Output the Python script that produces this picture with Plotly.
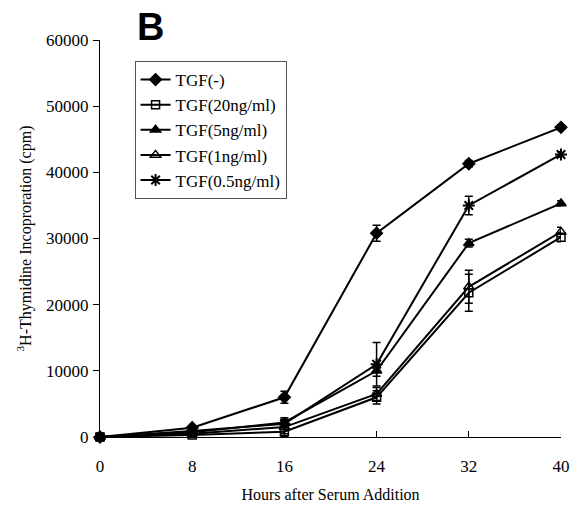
import plotly.graph_objects as go

hours = [0, 8, 16, 24, 32, 40]
series_names = ["TGF(-)", "TGF(20ng/ml)", "TGF(5ng/ml)", "TGF(1ng/ml)", "TGF(0.5ng/ml)"]
tgf_none = [0, 1400, 6000, 30800, 41300, 46800]
tgf_none_err = [0, 300, 900, 1200, 500, 400]
tgf_20 = [0, 300, 800, 6000, 21800, 30200]
tgf_20_err = [0, 200, 300, 1000, 2800, 700]
tgf_5 = [0, 700, 2200, 10000, 29300, 35300]
tgf_5_err = [0, 200, 500, 800, 600, 400]
tgf_1 = [0, 500, 1500, 6500, 22700, 31000]
tgf_1_err = [0, 200, 1400, 1000, 2500, 700]
tgf_05 = [0, 900, 2000, 11000, 35000, 42700]
tgf_05_err = [0, 200, 400, 3300, 1400, 400]

x_ticks = [0, 8, 16, 24, 32, 40]
y_ticks = [0, 10000, 20000, 30000, 40000, 50000, 60000]
y_tick_labels = ["0", "10000", "20000", "30000", "40000", "50000", "60000"]

values = [tgf_none, tgf_20, tgf_5, tgf_1, tgf_05]
errors = [tgf_none_err, tgf_20_err, tgf_5_err, tgf_1_err, tgf_05_err]
symbols = ["diamond", "square-open", "triangle-up", "triangle-up-open", "asterisk-open"]
sizes = [9, 8, 9, 9, 10]

fig = go.Figure()
for name, ys, es, sym, sz in zip(series_names, values, errors, symbols, sizes):
    fig.add_trace(go.Scatter(
        x=hours, y=ys, name=name, mode="lines+markers",
        line=dict(color="black", width=2),
        marker=dict(symbol=sym, size=sz, color="black",
                    line=dict(color="black", width=2 if sym == "asterisk-open" else 1.5)),
        error_y=dict(type="data", array=es, visible=True, color="black", thickness=1.5, width=4),
        cliponaxis=False,
    ))

serif = "Liberation Serif, Times New Roman, serif"
fig.update_layout(
    width=582, height=513,
    margin=dict(l=100, r=16, t=40, b=76),
    paper_bgcolor="white", plot_bgcolor="white",
    font=dict(family=serif, size=15, color="black"),
    showlegend=True,
    legend=dict(
        x=0.075, y=0.947, xanchor="left", yanchor="top",
        bordercolor="#555", borderwidth=1, bgcolor="white",
        font=dict(family=serif, size=17, color="black"),
        itemwidth=30, tracegroupgap=0,
    ),
    xaxis=dict(
        range=[0, 40], tickvals=x_ticks, ticks="inside", ticklen=6, tickwidth=1,
        tickcolor="black", showline=True, linecolor="black", linewidth=1.3,
        showgrid=False, zeroline=False, tickfont=dict(family=serif, size=17),
        ticklabelstandoff=13,
        title=dict(text="Hours after Serum Addition", font=dict(family=serif, size=16), standoff=14),
    ),
    yaxis=dict(
        range=[0, 60000], tickvals=y_ticks, ticktext=y_tick_labels, ticks="outside", ticklen=6, tickwidth=1,
        tickcolor="black", showline=True, linecolor="black", linewidth=1.3,
        showgrid=False, zeroline=False, tickfont=dict(family=serif, size=17),
        ticklabelstandoff=1,
        title=dict(text="<sup>3</sup>H-Thymidine Incoproration (cpm)", font=dict(family=serif, size=16), standoff=10),
    ),
    annotations=[dict(
        text="<b>B</b>", xref="paper", yref="paper", x=0.075, y=1.09, xanchor="left", yanchor="top",
        showarrow=False, font=dict(family="Liberation Sans, Arial, sans-serif", size=38, color="black"),
    )],
)

fig.write_html(
    "out.html",
    config={"displayModeBar": False},
    post_script="document.body.style.margin='0';document.body.style.overflow='hidden';",
)
